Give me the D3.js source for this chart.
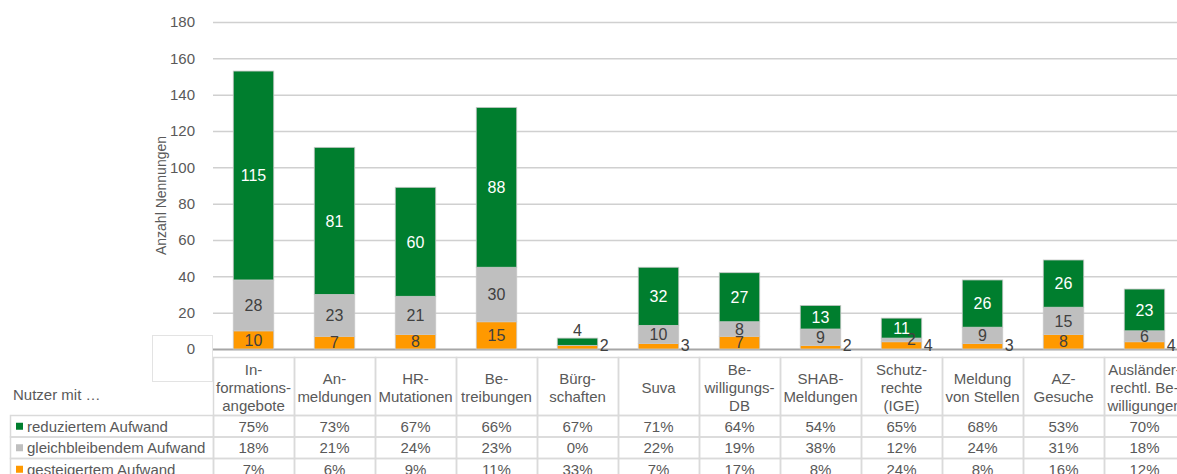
<!DOCTYPE html>
<html>
<head>
<meta charset="utf-8">
<script src="https://cdn.jsdelivr.net/npm/d3@7"></script>
<style>
  body { margin: 0; background: #fff; }
  svg { font-family: "Liberation Sans", Arial, sans-serif; display: block; }
</style>
</head>
<body>
<div id="chart"></div>
<script>
// categories (header lines as shown in the table)
const categories = ["Informationsangebote", "Anmeldungen", "HR-Mutationen", "Betreibungen", "Bürgschaften", "Suva",
  "Bewilligungs-DB", "SHAB-Meldungen", "Schutzrechte (IGE)", "Meldung von Stellen", "AZ-Gesuche", "Ausländerrechtl. Bewilligungen"];
const categoryLines = [["In-", "formations-", "angebote"], ["An-", "meldungen"], ["HR-", "Mutationen"], ["Be-", "treibungen"],
  ["Bürg-", "schaften"], ["Suva"], ["Be-", "willigungs-", "DB"], ["SHAB-", "Meldungen"], ["Schutz-", "rechte", "(IGE)"],
  ["Meldung", "von Stellen"], ["AZ-", "Gesuche"], ["Ausländer-", "rechtl. Be-", "willigungen"]];

// counts per series
const reduziert = [115, 81, 60, 88, 4, 32, 27, 13, 11, 26, 26, 23];
const gleich = [28, 23, 21, 30, 0, 10, 8, 9, 2, 9, 15, 6];
const gesteigert = [10, 7, 8, 15, 2, 3, 7, 2, 4, 3, 8, 4];

// percentages for table rows
const pctReduziert = ["75%", "73%", "67%", "66%", "67%", "71%", "64%", "54%", "65%", "68%", "53%", "70%"];
const pctGleich = ["18%", "21%", "24%", "23%", "0%", "22%", "19%", "38%", "12%", "24%", "31%", "18%"];
const pctGesteigert = ["7%", "6%", "9%", "11%", "33%", "7%", "17%", "8%", "24%", "8%", "16%", "12%"];

const yTicks = [0, 20, 40, 60, 80, 100, 120, 140, 160, 180];

const seriesNames = ["gesteigertem Aufwand", "gleichbleibendem Aufwand", "reduziertem Aufwand"];
const colors = {"reduziertem Aufwand": "#007E2E", "gleichbleibendem Aufwand": "#BFBFBF", "gesteigertem Aufwand": "#FF9900"};
const labelColors = {"reduziertem Aufwand": "#fff", "gleichbleibendem Aufwand": "#404040", "gesteigertem Aufwand": "#404040"};

const width = 1177, height = 474;
const plotLeft = 213, step = 81;
const y0 = 349, yTop = 22;

const data = categories.map((c, i) => ({
  cat: c,
  "gesteigertem Aufwand": gesteigert[i],
  "gleichbleibendem Aufwand": gleich[i],
  "reduziertem Aufwand": reduziert[i]
}));

const svg = d3.select("#chart").append("svg")
  .attr("width", width).attr("height", height);

const x = d3.scaleBand()
  .domain(categories)
  .range([plotLeft, plotLeft + step * categories.length])
  .paddingInner(0.5).paddingOuter(0.25);
const y = d3.scaleLinear().domain([0, 180]).range([y0, yTop]);

// box behind the 0 label
svg.append("rect")
  .attr("x", 152.5).attr("y", 335.5).attr("width", 60).attr("height", 46)
  .attr("fill", "#fff").attr("stroke", "#E3E3E3");

// y axis with gridlines
const yAxis = d3.axisLeft(y).tickValues(yTicks)
  .tickSizeInner(-(width - plotLeft)).tickSizeOuter(0).tickPadding(18);
const gy = svg.append("g").attr("transform", `translate(${plotLeft},0)`).call(yAxis);
gy.select(".domain").remove();
gy.selectAll(".tick line").attr("stroke", d => d === 0 ? "#A6A6A6" : "#D0D0D0").attr("stroke-width", d => d === 0 ? 2 : 1.5);
gy.selectAll(".tick text").attr("fill", "#595959").style("font-size", "15px");

svg.append("text")
  .attr("transform", `translate(166,${(y0 + yTop) / 2 + 10}) rotate(-90)`)
  .attr("text-anchor", "middle")
  .attr("fill", "#595959").style("font-size", "14px")
  .text("Anzahl Nennungen");

// stacked bars
const stack = d3.stack().keys(seriesNames);
const layers = stack(data);

const gl = svg.append("g").selectAll("g").data(layers).join("g")
  .attr("fill", d => colors[d.key]);
gl.selectAll("rect").data(d => d.map(s => Object.assign(s, {key: d.key})))
  .join("rect")
  .attr("x", d => x(d.data.cat))
  .attr("y", d => y(d[1]))
  .attr("width", x.bandwidth())
  .attr("height", d => y(d[0]) - y(d[1]))
  .attr("stroke", d => d[1] > d[0] ? "#C8C8C8" : "none")
  .attr("stroke-width", 0.8);

// value labels: small segments get their label outside the bar
const labels = [];
layers.forEach(layer => layer.forEach(s => {
  const v = s[1] - s[0];
  if (v === 0) return;
  const h = y(s[0]) - y(s[1]);
  const cx = x(s.data.cat) + x.bandwidth() / 2;
  let lx = cx, ly = (y(s[0]) + y(s[1])) / 2, anchor = "middle";
  const small = h < 10;
  if (small) {
    if (layer.key === "gesteigertem Aufwand") { lx = x(s.data.cat) + x.bandwidth() + 2; ly = y0 - 4; anchor = "start"; }
    else if (layer.key === "reduziertem Aufwand") { ly = y(s[1]) - 8; }
    else { lx = cx + 10; ly = ly - 1; }
  }
  labels.push({v, lx, ly, anchor, color: small ? "#404040" : labelColors[layer.key]});
}));
svg.append("g").selectAll("text").data(labels).join("text")
  .attr("x", d => d.lx).attr("y", d => d.ly)
  .attr("dy", "0.36em")
  .attr("text-anchor", d => d.anchor)
  .attr("fill", d => d.color)
  .style("font-size", "16px")
  .text(d => d.v);

// data table
const table = svg.append("g").attr("class", "table");
const headTop = 357.5, rowTop = 415.5, rowH = 21.5;
const border = "#DADADA";

// header cells
categories.forEach((c, i) => {
  const cx0 = plotLeft + i * step;
  table.append("rect").attr("x", cx0 + 0.5).attr("y", headTop).attr("width", step).attr("height", rowTop - headTop)
    .attr("fill", "none").attr("stroke", border).attr("stroke-width", 1.5);
  const lines = categoryLines[i];
  const midY = (headTop + rowTop) / 2 + 1;
  lines.forEach((ln, k) => {
    table.append("text")
      .attr("x", x(c) + x.bandwidth() / 2)
      .attr("y", midY + (k - (lines.length - 1) / 2) * 18)
      .attr("dy", "0.36em")
      .attr("text-anchor", "middle")
      .attr("fill", "#595959").style("font-size", "15px")
      .text(ln);
  });
});

table.append("text").attr("x", 13).attr("y", 400).attr("fill", "#595959").style("font-size", "15px").text("Nutzer mit …");

const rows = [
  {name: "reduziertem Aufwand", vals: pctReduziert},
  {name: "gleichbleibendem Aufwand", vals: pctGleich},
  {name: "gesteigertem Aufwand", vals: pctGesteigert}
];
rows.forEach((r, j) => {
  const ry = rowTop + j * rowH;
  table.append("rect").attr("x", 10.5).attr("y", ry).attr("width", plotLeft - 10).attr("height", rowH)
    .attr("fill", "none").attr("stroke", border).attr("stroke-width", 1.5);
  table.append("rect").attr("x", 16).attr("y", ry + rowH / 2 - 3.5).attr("width", 7).attr("height", 7)
    .attr("fill", colors[r.name]);
  table.append("text").attr("x", 27).attr("y", ry + rowH / 2).attr("dy", "0.36em")
    .attr("fill", "#595959").style("font-size", "15px").text(r.name);
  categories.forEach((c, i) => {
    table.append("rect").attr("x", plotLeft + i * step + 0.5).attr("y", ry).attr("width", step).attr("height", rowH)
      .attr("fill", "none").attr("stroke", border).attr("stroke-width", 1.5);
    table.append("text").attr("x", x(c) + x.bandwidth() / 2).attr("y", ry + rowH / 2).attr("dy", "0.36em")
      .attr("text-anchor", "middle").attr("fill", "#595959").style("font-size", "15px").text(r.vals[i]);
  });
});
</script>
</body>
</html>
